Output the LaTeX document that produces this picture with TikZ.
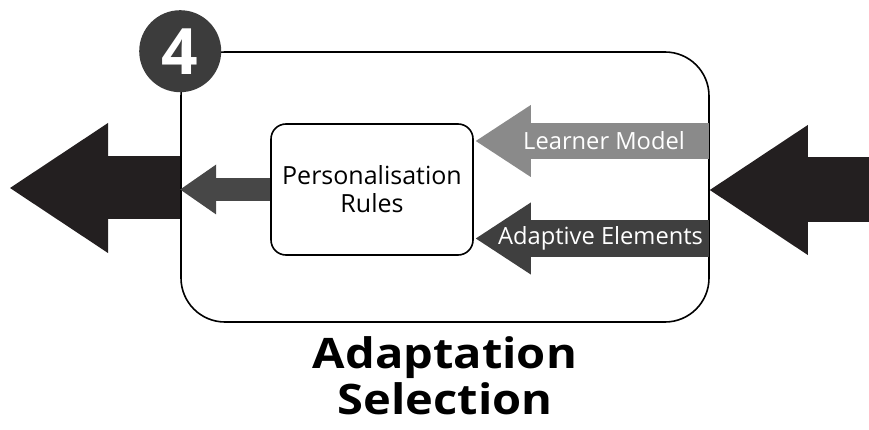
\documentclass[tikz,border=0pt]{standalone}
\usepackage{fontspec}
\setmainfont{Open Sans}
\newfontfamily\titlefont[FakeStretch=1.12]{Open Sans}
\usetikzlibrary{arrows.meta,calc}
\definecolor{blk}{HTML}{231F20}
\definecolor{lmgray}{HTML}{8A8A8A}
\definecolor{aedark}{HTML}{3F3F3F}
\definecolor{ingray}{HTML}{474747}
\definecolor{circ}{HTML}{3C3C3C}
\begin{document}
\begin{tikzpicture}[x=1pt,y=-1pt,
  boxline/.style={draw=black,line width=1.6pt},
  bigarrow/.style={draw=blk,line width=63pt,-{Triangle[length=98pt,width=130pt,line width=0pt]}},
  midarrow/.style={line width=36pt,-{Triangle[length=55pt,width=72pt,line width=0pt]}},
  smallarrow/.style={draw=ingray,line width=23pt,-{Triangle[length=36pt,width=50pt,line width=0pt]}},
  arrowtext/.style={text=white,font=\fontsize{23.7}{26}\selectfont,inner sep=0pt}
]
\useasboundingbox (0,0) rectangle (869,430);
\node[boxline,rounded corners=44pt,minimum width=528pt,minimum height=270pt,inner sep=0pt] (outer) at (445,187) {};
\node[boxline,rounded corners=15pt,minimum width=202pt,minimum height=131pt,inner sep=0pt,align=center,font=\fontsize{25}{28}\selectfont] (rules) at (372,189.5) {Personalisation\\Rules};
\coordinate (lend) at (10,188);
\coordinate (rin) at (869,190);
\coordinate (lm) at (709,141);
\coordinate (ae) at (709,238.5);
% big arrows
\draw[bigarrow] (outer.west |- lend) -- (lend);
\draw[bigarrow,line width=65pt] (rin) -- (outer.east |- rin);
% inner output arrow
\draw[smallarrow] (rules.west) -- (outer.west |- rules.west);
% input arrows
\draw[midarrow,draw=lmgray] (lm) -- ([xshift=2pt]rules.east |- lm)
  node[arrowtext,pos=0.45] (lmtext) {Learner Model};
\draw[midarrow,draw=aedark,line width=37pt] (ae) -- ([xshift=2pt]rules.east |- ae)
  node[arrowtext,pos=0.465] (aetext) {Adaptive Elements};
% number circle
\node[circle,fill=circ,minimum size=82pt,inner sep=0pt,text=white,font=\fontsize{64}{64}\selectfont\bfseries] (num) at (outer.north west) {4};
% title
\node[align=center,font=\fontsize{42}{46}\selectfont\titlefont\bfseries] (title) at (445,376) {Adaptation\\Selection};
\end{tikzpicture}
\end{document}
